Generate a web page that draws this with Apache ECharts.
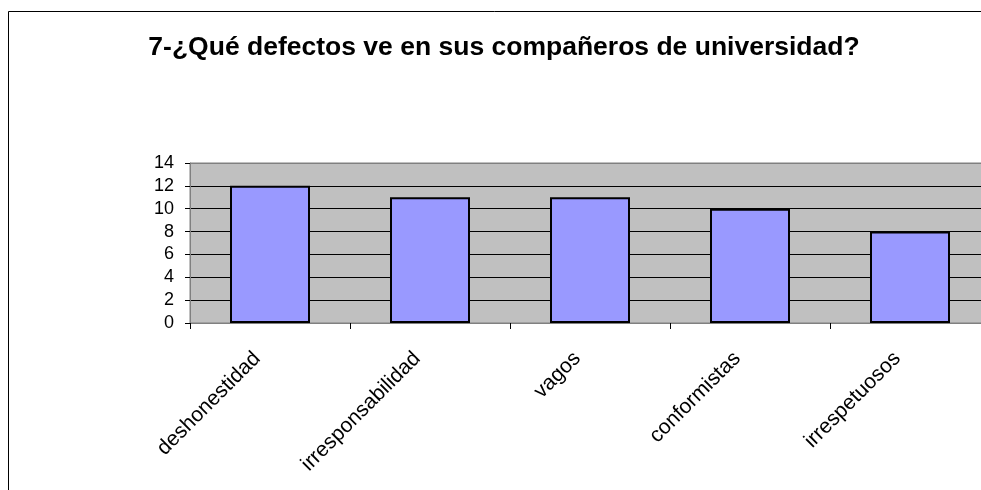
<!DOCTYPE html>
<html>
<head>
<meta charset="utf-8">
<script src="https://cdn.jsdelivr.net/npm/echarts@6/dist/echarts.min.js"></script>
<style>
  html, body { margin: 0; padding: 0; background: #fff; }
  #chart { width: 981px; height: 490px; }
</style>
</head>
<body>
<div id="chart"></div>
<script>
const titleText = '7-¿Qué defectos ve en sus compañeros de universidad?'
const categories = ['deshonestidad', 'irresponsabilidad', 'vagos', 'conformistas', 'irrespetuosos']
const values = [12, 11, 11, 10, 8]
const yTicks = [0, 2, 4, 6, 8, 10, 12, 14]

const myChart = echarts.init(document.getElementById('chart'))
// grid lines: gray on the frame edges, black inside
const gridColors = yTicks.map((v, i) => (i === 0 || i === yTicks.length - 1) ? '#808080' : '#000')

myChart.setOption({
    animation: false,
    textStyle: { fontFamily: 'Liberation Sans, Arial, sans-serif' },
    title: {
        text: titleText,
        left: 499,
        textAlign: 'center',
        top: 29,
        textStyle: { fontSize: 26.5, fontWeight: 'bold', color: '#000', fontFamily: 'Liberation Sans, Arial, sans-serif' }
    },
    graphic: [
        { type: 'line', shape: { x1: 8.5, y1: 11.5, x2: 981, y2: 11.5 }, style: { stroke: '#000', lineWidth: 1 } },
        { type: 'line', shape: { x1: 8.5, y1: 11.5, x2: 8.5, y2: 490 }, style: { stroke: '#000', lineWidth: 1 } }
    ],
    grid: {
        left: 190,
        top: 163,
        right: -9,
        height: 160,
        show: true,
        backgroundColor: '#c0c0c0',
        borderColor: '#808080',
        borderWidth: 1,
        outerBoundsMode: 'none'
    },
    xAxis: {
        type: 'category',
        data: categories,
        axisLine: { lineStyle: { color: '#808080', width: 1 } },
        axisTick: { show: true, length: 6, lineStyle: { color: '#000' } },
        axisLabel: {
            rotate: 45,
            margin: 45,
            verticalAlign: 'bottom',
            lineHeight: 36,
            fontSize: 21,
            color: '#000',
            interval: 0
        }
    },
    yAxis: {
        type: 'value',
        min: 0,
        max: 14,
        interval: 2,
        axisLine: { show: true, lineStyle: { color: '#808080', width: 1 } },
        axisTick: { show: true, length: 5, lineStyle: { color: '#000' } },
        axisLabel: { fontSize: 18, color: '#000', margin: 16 },
        splitLine: { show: true, lineStyle: { color: gridColors, width: 1 } }
    },
    series: [
        {
            type: 'bar',
            data: values,
            barWidth: '50%',
            itemStyle: {
                color: '#9999ff',
                borderColor: '#000',
                borderWidth: 2
            }
        }
    ]
})
</script>
</body>
</html>
